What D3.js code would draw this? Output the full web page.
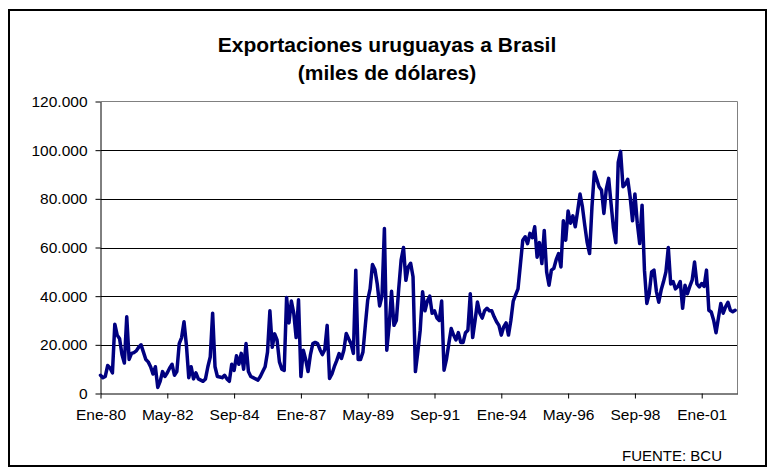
<!DOCTYPE html>
<html>
<head>
<meta charset="utf-8">
<script src="https://cdn.jsdelivr.net/npm/d3@7"></script>
<style>
  body { margin: 0; background: #fff; }
  text { font-family: Arial, "Liberation Sans", sans-serif; }
</style>
</head>
<body>
<div id="chart"></div>
<script>
// monthly exports, Ene-80 .. Mar-02 (miles de dolares)
var exportsBR = [
  7500, 6500, 7000, 11500, 10500, 8500, 28500, 24000, 22500, 16000, 12500, 31500,
  14000, 16500, 16800, 17500, 19000, 20000, 17000, 14000, 13000, 11000, 8000, 11000,
  2500, 5000, 9000, 7000, 8500, 10500, 12000, 7500, 9000, 20500, 23000, 29500,
  20000, 6500, 11000, 6000, 8500, 6000, 5500, 5000, 6000, 11000, 15000, 33000,
  11000, 7000, 6800, 6500, 7500, 6000, 5000, 12000, 9500, 15500, 12000, 16500,
  10000, 20500, 9000, 7000, 6500, 6000, 5500, 7000, 9000, 11000, 17000, 34000,
  19000, 24500, 22000, 13000, 10000, 9500, 39500, 29000, 38000, 33000, 23000, 38500,
  7000, 17800, 14000, 9000, 16000, 20500, 21000, 20500, 18000, 16000, 18000, 28000,
  6200, 8000, 11000, 13500, 16400, 14400, 17800, 24700, 22500, 20500, 16500, 50700,
  14000, 14000, 17000, 28000, 38400, 43000, 53000, 51000, 45000, 36000, 40000, 67800,
  17800, 28000, 42000, 28000, 30000, 43000, 54800, 60000, 46500, 52000, 53500, 48000,
  9000, 17000, 26000, 41800, 34000, 38000, 40000, 33000, 34000, 31000, 30000, 38000,
  9600, 14000, 20500, 26700, 24000, 22000, 25000, 21000, 21000, 25000, 26000, 41000,
  23000, 30000, 37600, 33000, 31000, 34000, 35000, 34000, 34000, 31500, 29500, 28000,
  24000, 27400, 29000, 24000, 30000, 38000, 40500, 43000, 53000, 63000, 64400, 61600,
  65800, 64000, 68500, 56000, 62000, 53400, 67000, 50000, 44500, 50700, 51400, 55000,
  57500, 52000, 71000, 63000, 75000, 70000, 73000, 68500, 75000, 82000, 76700, 69000,
  62000, 57500, 76700, 91000, 88000, 84900, 83600, 74000, 84000, 88400, 78000, 68000,
  62000, 95000, 99500, 85000, 86000, 88000, 80800, 71000, 82000, 70000, 61600, 77400,
  50700, 37000, 41100, 50000, 50700, 42000, 37500, 42500, 46000, 50000, 60000, 45000,
  46000, 43000, 44000, 46000, 35000, 44500, 41000, 44000, 46600, 54000, 45000, 43800,
  45200, 44000, 50700, 34200, 33500, 30100, 25000, 31000, 37000, 33000, 35600, 37500,
  34200, 33600, 34200
];

var xTickLabels = ["Ene-80", "May-82", "Sep-84", "Ene-87", "May-89", "Sep-91", "Ene-94", "May-96", "Sep-98", "Ene-01"];
var yTickValues = [0, 20000, 40000, 60000, 80000, 100000, 120000];

var titleLines = ["Exportaciones uruguayas a Brasil", "(miles de dólares)"];
var sourceNote = "FUENTE: BCU";

var width = 775;
var height = 471;

// plot area edges (not "top": that name is taken by window.top)
var plotL = 100.5, plotR = 737.5, plotT = 101.5, plotB = 393.5;
var monthsShown = 267; // band count on the category axis
var tickEvery = 28;

var svg = d3
  .select("#chart")
  .append("svg")
  .attr("width", width)
  .attr("height", height);

// outer chart frame
svg.append("rect")
  .attr("x", 9)
  .attr("y", 10)
  .attr("width", 757)
  .attr("height", 456)
  .attr("fill", "#fff")
  .attr("stroke", "#000")
  .attr("stroke-width", 2);

// title
svg.append("g")
  .selectAll("text")
  .data(titleLines)
  .enter()
  .append("text")
  .attr("x", 387)
  .attr("y", function(d, i) { return 52 + i * 28; })
  .attr("text-anchor", "middle")
  .attr("font-size", 21)
  .attr("font-weight", "bold")
  .text(function(d) { return d; });

var xscale = d3.scaleLinear().domain([0, monthsShown]).range([plotL, plotR]);
var yscale = d3.scaleLinear().domain([0, 120000]).range([plotB, plotT]);

// gridlines
svg.append("g")
  .selectAll("line")
  .data(yTickValues.filter(function(v) { return v > 0 && v < 120000; }))
  .enter()
  .append("line")
  .attr("x1", plotL)
  .attr("x2", plotR)
  .attr("y1", function(d) { return Math.round(yscale(d)) + 0.5; })
  .attr("y2", function(d) { return Math.round(yscale(d)) + 0.5; })
  .attr("stroke", "#000")
  .attr("stroke-width", 1);

// plot border top + right (gray)
svg.append("path")
  .attr("d", "M" + plotL + "," + plotT + "H" + plotR + "V" + plotB)
  .attr("fill", "none")
  .attr("stroke", "#808080")
  .attr("stroke-width", 1);

var fmt = d3.formatLocale({ decimal: ",", thousands: ".", grouping: [3], currency: ["$", ""] }).format(",.0f");

var yAxis = d3.axisLeft(yscale)
  .tickValues(yTickValues)
  .tickSize(5)
  .tickSizeOuter(0)
  .tickPadding(8)
  .tickFormat(fmt);

var monthTicks = xTickLabels.map(function(d, i) { return i * tickEvery; });

var xAxis = d3.axisBottom(xscale)
  .tickValues(monthTicks)
  .tickSize(5)
  .tickSizeOuter(0)
  .tickPadding(10)
  .tickFormat(function(d, i) { return xTickLabels[i]; });

svg.append("g")
  .attr("class", "yAxis")
  .attr("transform", "translate(" + plotL + ",0)")
  .call(yAxis);

svg.append("g")
  .attr("class", "xAxis")
  .attr("transform", "translate(0," + plotB + ")")
  .call(xAxis);

svg.selectAll(".yAxis .domain, .xAxis .domain, .yAxis line, .xAxis line").attr("stroke", "#000");
svg.selectAll(".yAxis text, .xAxis text")
  .attr("font-size", 15.5)
  .attr("font-family", "Arial, 'Liberation Sans', sans-serif")
  .attr("fill", "#000");

// the series
var line = d3.line()
  .x(function(d, i) { return xscale(i); })
  .y(function(d) { return yscale(d); });

svg.append("path")
  .datum(exportsBR)
  .attr("d", line)
  .attr("fill", "none")
  .attr("stroke", "#000080")
  .attr("stroke-width", 3.5)
  .attr("stroke-linejoin", "round")
  .attr("stroke-linecap", "round");

// source note
svg.append("text")
  .attr("x", 722)
  .attr("y", 461)
  .attr("text-anchor", "end")
  .attr("font-size", 15)
  .text(sourceNote);
</script>
</body>
</html>
